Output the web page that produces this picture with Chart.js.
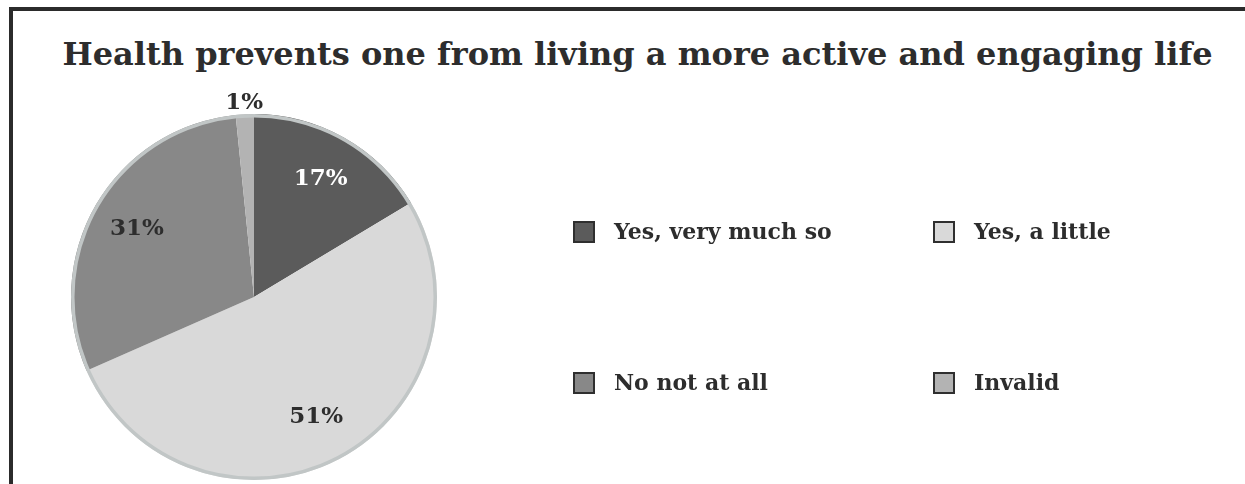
<!DOCTYPE html>
<html>
<head>
<meta charset="utf-8">
<script src="https://cdn.jsdelivr.net/npm/chart.js@4/dist/chart.umd.min.js"></script>
<style>
    body { margin: 0; width: 1245px; height: 484px; overflow: hidden; background: #fff; position: relative; }
    #marco { position: absolute; left: 9px; top: 7px; width: 1300px; height: 520px; border: 4px solid #2b2b2b; }
    #titulo { position: absolute; left: 0; top: 39px; width: 1275px; text-align: center; margin: 0;
        font: bold 32px "DejaVu Serif", serif; line-height: 30px; color: #2d2d2d; }
    #grafica { position: absolute; left: 0; top: 0; }
    .item { position: absolute; font: bold 22px "DejaVu Serif", serif; color: #2d2d2d; white-space: nowrap; }
    .caja { position: absolute; width: 22px; height: 22px; box-sizing: border-box; border: 2px solid #2f2f2f; }
</style>
</head>
<body>
<div id="marco"></div>
<h1 id="titulo">Health prevents one from living a more active and engaging life</h1>
<canvas id="grafica" width="1245" height="484"></canvas>
<div id="leyenda"></div>
<script>
// respuestas y porcentajes
let categorias = ["Yes, very much so", "Yes, a little", "No not at all", "Invalid"];
let porciones = [16.4, 52.0, 30.0, 1.6];     // tamaño de cada rebanada
let etiquetas = [17, 51, 31, 1];              // porcentaje que aparece escrito
let colores = ["#5b5b5b", "#d9d9d9", "#888888", "#b3b3b3"];

// textos de porcentaje sobre cada rebanada + aro gris exterior
const porcentajes = {
    id: "porcentajes",
    afterDatasetsDraw(chart) {
        let ctx = chart.ctx;
        let meta = chart.getDatasetMeta(0);
        let primero = meta.data[0];
        // aro exterior
        ctx.save();
        ctx.beginPath();
        ctx.arc(primero.x, primero.y, primero.outerRadius - 1.75, 0, Math.PI * 2);
        ctx.lineWidth = 3.5;
        ctx.strokeStyle = "#c1c6c6";
        ctx.stroke();

        ctx.font = "bold 23px 'DejaVu Serif', serif";
        ctx.textAlign = "center";
        ctx.textBaseline = "middle";
        meta.data.forEach(function (arco, i) {
            let medio = (arco.startAngle + arco.endAngle) / 2;
            let r = arco.outerRadius * 0.74;
            if (porciones[i] < 5) {
                r = arco.outerRadius + 11; // la rebanada chica va por fuera
            }
            let x = arco.x + Math.cos(medio) * r;
            let y = arco.y + Math.sin(medio) * r;
            ctx.fillStyle = i === 0 ? "#ffffff" : "#2d2d2d";
            ctx.fillText(etiquetas[i] + "%", x, y);
        });
        ctx.restore();
    }
};

let ctx = document.getElementById("grafica");
let grafica = new Chart(ctx, {
    type: "pie",
    data: {
        labels: categorias,
        datasets: [
            {
                data: porciones,
                backgroundColor: colores,
                borderWidth: 0,
            },
        ],
    },
    options: {
        responsive: false,
        animation: false,
        devicePixelRatio: 1,
        layout: {
            padding: { left: 71, right: 808, top: 114, bottom: 4 },
        },
        plugins: {
            legend: { display: false },
            tooltip: { enabled: false },
        },
    },
    plugins: [porcentajes],
});

// leyenda en 2 columnas, armada con los items de la grafica
let leyenda = document.getElementById("leyenda");
let items = grafica.options.plugins.legend.labels.generateLabels(grafica);
let columnas = [573, 933];
let filas = [221, 372];
items.forEach(function (item, i) {
    let x = columnas[i % 2];
    let y = filas[Math.floor(i / 2)];
    let caja = document.createElement("div");
    caja.className = "caja";
    caja.style.left = x + "px";
    caja.style.top = y + "px";
    caja.style.background = item.fillStyle;
    leyenda.appendChild(caja);

    let texto = document.createElement("div");
    texto.className = "item";
    texto.textContent = item.text;
    texto.style.left = (x + 41) + "px";
    texto.style.top = (y - 3) + "px";
    leyenda.appendChild(texto);
});
</script>
</body>
</html>
